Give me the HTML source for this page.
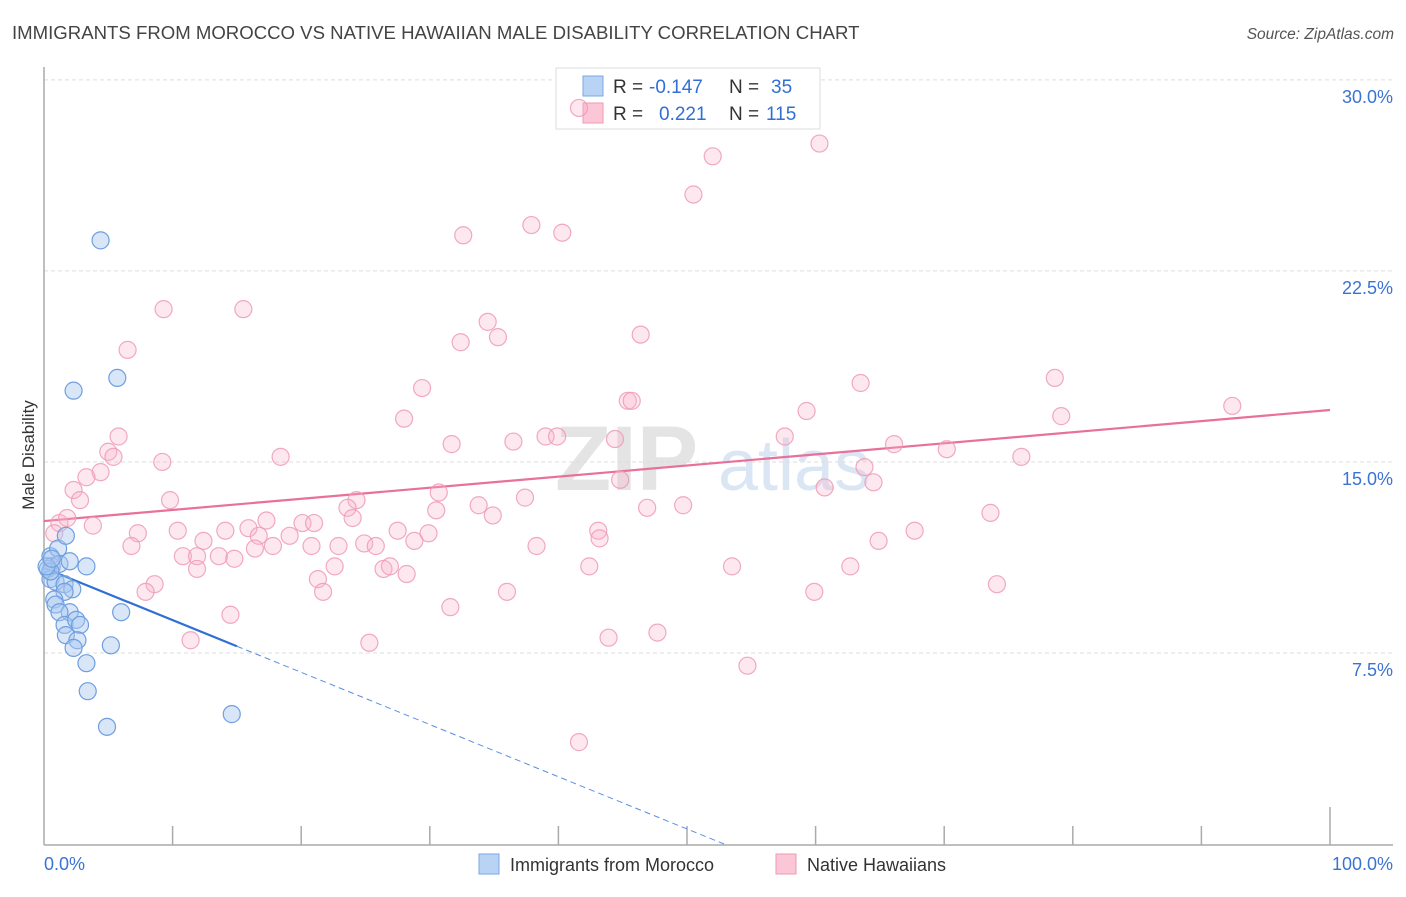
<!DOCTYPE html>
<html><head><meta charset="utf-8"><style>
body{margin:0;background:#fff;font-family:"Liberation Sans",sans-serif;}
svg text{font-family:"Liberation Sans",sans-serif;}
</style></head><body>
<svg id="chart" width="1406" height="892" xmlns="http://www.w3.org/2000/svg">
<text x="12" y="39" font-size="18.6" fill="#444">IMMIGRANTS FROM MOROCCO VS NATIVE HAWAIIAN MALE DISABILITY CORRELATION CHART</text>
<text x="1394" y="39" font-size="15.5" fill="#555" text-anchor="end" font-style="italic">Source: ZipAtlas.com</text>
<g>
<text x="555" y="490" font-size="92" fill="#e4e4e4" font-family="Liberation Serif" font-weight="bold">ZIP</text>
<text x="718" y="490" font-size="72" fill="#dbe6f4">atlas</text>
</g>
<g id="grid"></g>
<g id="axes"></g>
<text transform="translate(34,455) rotate(-90)" font-size="17" fill="#333" text-anchor="middle">Male Disability</text>
<g id="lines"></g>
<g>
<rect x="556" y="68" width="264" height="61" fill="#fff" stroke="#ddd"/>
<rect x="583" y="76" width="20" height="20" fill="#b9d3f5" stroke="#7aa7e6"/>
<rect x="583" y="103" width="20" height="20" fill="#fbc6d6" stroke="#ef9ab6"/>
<text x="613" y="93" font-size="19" fill="#333">R =</text>
<text x="649" y="93" font-size="19" fill="#2f6fd6">-0.147</text>
<text x="729" y="93" font-size="19" fill="#333">N =</text>
<text x="771" y="93" font-size="19" fill="#2f6fd6">35</text>
<text x="613" y="120" font-size="19" fill="#333">R =</text>
<text x="659" y="120" font-size="19" fill="#2f6fd6">0.221</text>
<text x="729" y="120" font-size="19" fill="#333">N =</text>
<text x="766" y="120" font-size="19" fill="#2f6fd6">115</text>
</g>
<g id="points"></g>
<g>
<rect x="479" y="854" width="20" height="20" fill="#b9d3f5" stroke="#7aa7e6"/>
<text x="510" y="871" font-size="18" fill="#333">Immigrants from Morocco</text>
<rect x="776" y="854" width="20" height="20" fill="#fbc6d6" stroke="#ef9ab6"/>
<text x="807" y="871" font-size="18" fill="#333">Native Hawaiians</text>
</g>
</svg>
<script>
const yTicks=[7.5,15,22.5,30];
const yTickLabels=["7.5%","15.0%","22.5%","30.0%"];
const xTickLabels=["0.0%","100.0%"];
const blueX=[4.4,5.7,2.3,0.5,1.1,1.7,0.6,0.3,1.2,2.0,3.3,0.5,0.9,1.6,2.2,1.6,0.8,0.9,2.0,1.2,6.0,1.6,2.5,2.8,1.7,2.6,2.3,5.2,3.3,3.4,4.9,14.6,0.5,0.2,0.6];
const blueY=[23.7,18.3,17.8,11.3,11.6,12.1,10.9,10.8,11.0,11.1,10.9,10.4,10.3,10.2,10.0,9.9,9.6,9.4,9.1,9.1,9.1,8.6,8.8,8.6,8.2,8.0,7.7,7.8,7.1,6.0,4.6,5.1,10.7,10.9,11.2];
const pinkX=[9.3,15.5,6.5,34.5,32.4,35.3,46.4,41.6,52.0,60.3,50.5,32.6,37.9,40.3,29.4,28.0,31.7,36.5,39.0,39.9,44.4,45.4,45.7,59.3,63.5,78.6,79.1,92.4,66.1,70.2,76.0,63.8,64.5,60.7,57.6,18.4,5.8,5.0,5.4,9.2,4.4,3.3,2.3,2.8,9.8,24.3,30.7,37.4,33.8,34.9,23.6,24.0,30.5,46.9,49.7,44.8,1.2,1.8,3.8,0.8,7.3,10.4,14.1,15.9,17.3,20.1,21.0,19.1,16.7,27.5,29.9,43.1,43.2,67.7,73.6,6.8,12.4,10.8,11.9,13.6,14.8,16.4,17.8,20.8,22.9,24.9,25.8,28.8,38.3,64.9,11.9,22.6,21.3,26.4,26.9,28.2,21.7,36.0,42.4,53.5,62.7,8.6,7.9,74.1,59.9,14.5,31.6,11.4,25.3,43.9,47.7,54.7,41.6];
const pinkY=[21.0,21.0,19.4,20.5,19.7,19.9,20.0,28.9,27.0,27.5,25.5,23.9,24.3,24.0,17.9,16.7,15.7,15.8,16.0,16.0,15.9,17.4,17.4,17.0,18.1,18.3,16.8,17.2,15.7,15.5,15.2,14.8,14.2,14.0,16.0,15.2,16.0,15.4,15.2,15.0,14.6,14.4,13.9,13.5,13.5,13.5,13.8,13.6,13.3,12.9,13.2,12.8,13.1,13.2,13.3,14.3,12.6,12.8,12.5,12.2,12.2,12.3,12.3,12.4,12.7,12.6,12.6,12.1,12.1,12.3,12.2,12.3,12.0,12.3,13.0,11.7,11.9,11.3,11.3,11.3,11.2,11.6,11.7,11.7,11.7,11.8,11.7,11.9,11.7,11.9,10.8,10.9,10.4,10.8,10.9,10.6,9.9,9.9,10.9,10.9,10.9,10.2,9.9,10.2,9.9,9.0,9.3,8.0,7.9,8.1,8.3,7.0,4.0];
const blueTrend=[10.84,-0.205];
const pinkTrend=[12.68,0.0436];
const NS="http://www.w3.org/2000/svg";
const X0=44,X1=1330,Y0=844,PY=25.47;
function sx(v){return X0+(X1-X0)*v/100;}
function sy(v){return Y0-v*PY;}
function mk(tag,attrs,parent){const e=document.createElementNS(NS,tag);for(const k in attrs)e.setAttribute(k,attrs[k]);parent.appendChild(e);return e;}
const grid=document.getElementById('grid');
yTicks.forEach((t,i)=>{
 const l=mk('line',{x1:44,x2:1393,y1:sy(t),y2:sy(t),stroke:'#ddd','stroke-dasharray':'4,3'},grid);
 
 
 const tx=mk('text',{x:1393,y:sy(t)+23,'font-size':18,fill:'#3b73d4','text-anchor':'end'},grid);
 tx.textContent=yTickLabels[i];
 
 
});
const axes=document.getElementById('axes');
mk('line',{x1:44,x2:44,y1:67,y2:845,stroke:'#aaa','stroke-width':1.5},axes);
mk('line',{x1:44,x2:1393,y1:845,y2:845,stroke:'#aaa','stroke-width':1.5},axes);
for(let i=1;i<=10;i++){const x=sx(i*10);mk('line',{x1:x,x2:x,y1:i==10?807:826,y2:845,stroke:'#aaa','stroke-width':1.5},axes);}
[0,100].forEach((v,i)=>{
 const t=mk('text',{x:i?1393:44,y:870,'font-size':18,fill:'#3b73d4','text-anchor':i?'end':'start'},axes);
 t.textContent=xTickLabels[i];
 
 
});
const pts=document.getElementById('points');
pinkX.forEach((x,i)=>{
 const c=mk('circle',{cx:sx(x),cy:sy(pinkY[i]),r:8.5,fill:'rgba(247,180,202,0.3)',stroke:'rgba(238,154,182,0.85)','stroke-width':1.2},pts);
 
 
});
blueX.forEach((x,i)=>{
 const c=mk('circle',{cx:sx(x),cy:sy(blueY[i]),r:8.5,fill:'rgba(169,200,240,0.45)',stroke:'#6f9fe0','stroke-width':1.2},pts);
 
 
});
const lines=document.getElementById('lines');
const pl=mk('line',{x1:sx(0),y1:sy(pinkTrend[0]),x2:sx(100),y2:sy(pinkTrend[0]+100*pinkTrend[1]),stroke:'#e8709a','stroke-width':2.2},lines);


const bl=mk('line',{x1:sx(0),y1:sy(blueTrend[0]),x2:sx(15),y2:sy(blueTrend[0]+15*blueTrend[1]),stroke:'#2f6fd6','stroke-width':2.2},lines);


const xe=-blueTrend[0]/blueTrend[1];
const bd=mk('line',{x1:sx(15),y1:sy(blueTrend[0]+15*blueTrend[1]),x2:sx(xe),y2:sy(0),stroke:'#5b8fe0','stroke-width':1,'stroke-dasharray':'6,4'},lines);


</script>
</body></html>
